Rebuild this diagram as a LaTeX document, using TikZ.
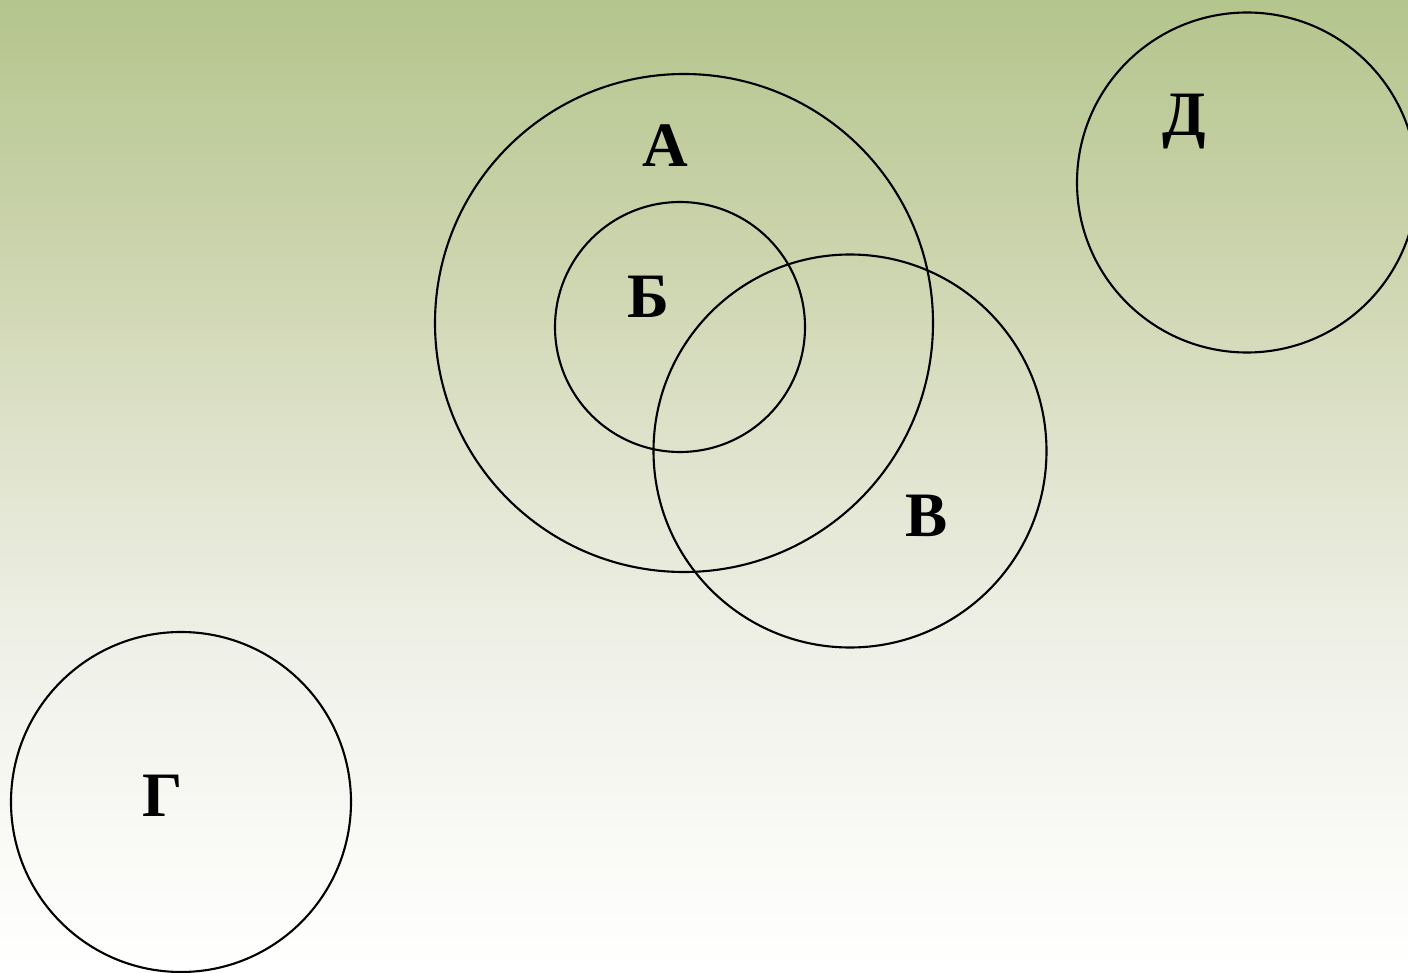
\documentclass[tikz,border=0pt]{standalone}
\usepackage{fontspec}
\setmainfont{Liberation Serif}
\usepackage{xcolor}
\usepackage{tikz}
\usetikzlibrary{positioning}

\definecolor{sagetop}{HTML}{B4C58D}
\definecolor{sageA}{HTML}{CCD4AD}
\definecolor{sageB}{HTML}{DFE3CC}
\definecolor{sageC}{HTML}{EFF1E8}
\definecolor{sageD}{HTML}{FAFAF7}
\pgfdeclareverticalshading{sagefade}{100bp}{
    color(0bp)=(white); color(25bp)=(white); color(31bp)=(sageD);
    color(41.5bp)=(sageC); color(52bp)=(sageB); color(62bp)=(sageA);
    color(75bp)=(sagetop); color(100bp)=(sagetop)}

\begin{document}
\begin{tikzpicture}[
    setcircle/.style={
        circle, draw=black, line width=0.6pt, inner sep=0pt
    },
    setlabel/.style={
        font=\fontsize{18}{20}\selectfont\bfseries, anchor=base, inner sep=0pt
    }
]
    % background
    \shade[shading=sagefade] (0,0) rectangle (14.08,9.72);
    \useasboundingbox (0,0) rectangle (14.08,9.72);

    % sets
    \node[setcircle, minimum size=4.98cm] (setA) at (6.84, 6.49) {};
    \node[setcircle, minimum size=2.50cm] (setB) at (6.80, 6.45) {};
    \node[setcircle, minimum size=3.93cm] (setV) at (8.50, 5.21) {};
    \node[setcircle, minimum size=3.40cm] (setG) at (1.81, 1.70) {};
    \node[setcircle, minimum size=3.40cm] (setD) at (12.47, 7.895) {};

    % labels
    \node[setlabel] (labA) at (6.65, 8.05) {А};
    \node[setlabel] (labB) at (6.48, 6.54) {Б};
    \node[setlabel] (labV) at (9.27, 4.35) {В};
    \node[setlabel] (labG) at (1.63, 1.56) {Г};
    \node[setlabel] (labD) at (11.84, 8.36) {Д};
\end{tikzpicture}
\end{document}
